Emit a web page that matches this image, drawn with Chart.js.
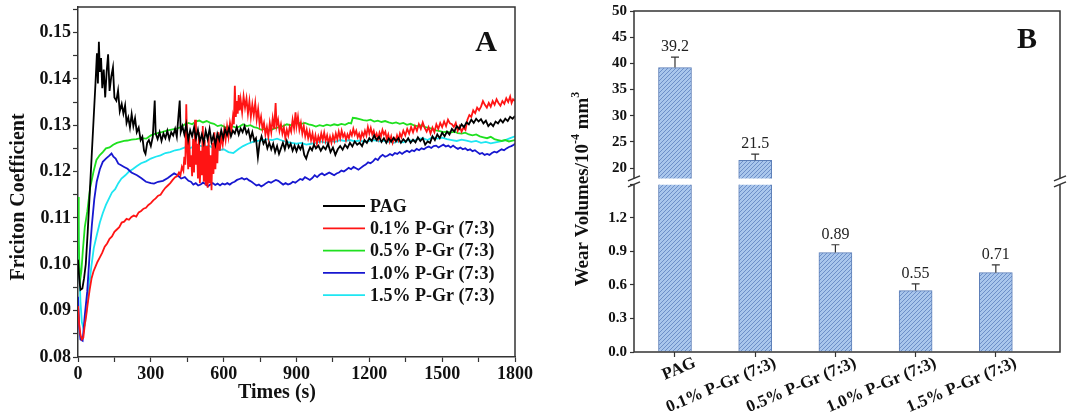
<!DOCTYPE html>
<html>
<head>
<meta charset="utf-8">
<title>Friction coefficient and wear volume</title>
<script src="https://cdn.jsdelivr.net/npm/chart.js@4.4.1/dist/chart.umd.min.js"></script>
<style>
  html, body { margin: 0; padding: 0; background: #fff; }
  #wrap { position: relative; width: 1068px; height: 418px; overflow: hidden; }
  #frictionChart { position: absolute; left: 0; top: 0; }
  #wearChart { position: absolute; left: 540px; top: 0; }
</style>
</head>
<body>
<div id="wrap">
  <canvas id="frictionChart" width="560" height="418"></canvas>
  <canvas id="wearChart" width="528" height="418"></canvas>
</div>
<script>
// [time (s), friction coefficient]
const pagData = [
  [0, 0.101], [5, 0.097], [10, 0.0945], [18, 0.0948], [25, 0.097], [32, 0.1], [40, 0.107], [48, 0.115],
  [56, 0.123], [64, 0.131], [72, 0.139], [78, 0.1455], [82, 0.139], [86, 0.148], [90, 0.1415], [95, 0.1445],
  [100, 0.138], [106, 0.142], [112, 0.136], [118, 0.1415], [124, 0.1453], [130, 0.1374], [137, 0.1405], [144, 0.1425],
  [150, 0.136], [158, 0.1353], [165, 0.1375], [172, 0.133], [180, 0.1346], [187, 0.1325], [194, 0.1343], [200, 0.1305],
  [207, 0.1317], [214, 0.1295], [221, 0.1324], [228, 0.1298], [235, 0.1315], [242, 0.1285], [250, 0.1295], [258, 0.1268],
  [265, 0.1275], [272, 0.1245], [278, 0.1238], [285, 0.1262], [292, 0.1268], [300, 0.1255], [308, 0.1275], [316, 0.1353],
  [320, 0.1282], [328, 0.127], [336, 0.1285], [344, 0.1266], [352, 0.1282], [360, 0.1272], [368, 0.1288], [376, 0.127],
  [384, 0.1285], [392, 0.1278], [400, 0.1292], [407, 0.1275], [414, 0.1322], [419, 0.1353], [423, 0.1285], [430, 0.1298],
  [438, 0.128], [446, 0.1302], [454, 0.1268], [462, 0.1289], [470, 0.1276], [478, 0.1295], [486, 0.1272], [494, 0.129],
  [502, 0.1265], [510, 0.128], [518, 0.1262], [526, 0.1288], [534, 0.127], [542, 0.1292], [550, 0.1264], [558, 0.1278],
  [566, 0.1258], [574, 0.1281], [582, 0.1268], [590, 0.1289], [598, 0.1272], [606, 0.1291], [614, 0.1279], [622, 0.1294],
  [630, 0.1276], [638, 0.1288], [646, 0.1282], [654, 0.1296], [662, 0.128], [670, 0.1293], [678, 0.1285], [686, 0.1298],
  [694, 0.1282], [702, 0.129], [710, 0.127], [718, 0.1285], [726, 0.1266], [733, 0.1272], [741, 0.1231], [748, 0.1262],
  [756, 0.1276], [764, 0.126], [772, 0.1268], [780, 0.125], [788, 0.1262], [796, 0.1248], [804, 0.126], [812, 0.1242],
  [820, 0.1255], [828, 0.1238], [836, 0.125], [844, 0.1262], [852, 0.1248], [860, 0.1266], [868, 0.1252], [876, 0.126],
  [884, 0.1245], [892, 0.1256], [900, 0.1244], [908, 0.1256], [916, 0.1248], [924, 0.1258], [932, 0.1236], [940, 0.1228],
  [948, 0.1242], [956, 0.1252], [964, 0.1246], [972, 0.1258], [980, 0.125], [990, 0.1256], [1000, 0.1245], [1010, 0.1254],
  [1020, 0.1248], [1030, 0.126], [1040, 0.1242], [1050, 0.1252], [1060, 0.1236], [1070, 0.1248], [1080, 0.1255], [1090, 0.1247],
  [1100, 0.1258], [1110, 0.1251], [1120, 0.1262], [1130, 0.1254], [1140, 0.1265], [1150, 0.1258], [1160, 0.1262], [1170, 0.1255],
  [1180, 0.1268], [1190, 0.1262], [1200, 0.1272], [1210, 0.1266], [1220, 0.1278], [1230, 0.1268], [1240, 0.1275], [1250, 0.1264],
  [1260, 0.1272], [1270, 0.1262], [1280, 0.1271], [1290, 0.1265], [1300, 0.1273], [1310, 0.1266], [1320, 0.1272], [1330, 0.1262],
  [1340, 0.127], [1350, 0.1264], [1360, 0.1272], [1370, 0.1262], [1380, 0.1269], [1390, 0.1263], [1400, 0.1274], [1410, 0.1266],
  [1420, 0.1272], [1430, 0.1258], [1440, 0.1265], [1450, 0.1262], [1460, 0.1276], [1470, 0.1268], [1480, 0.128], [1490, 0.1272],
  [1500, 0.1284], [1510, 0.1276], [1520, 0.1286], [1530, 0.128], [1540, 0.1292], [1550, 0.1286], [1560, 0.1298], [1570, 0.1292],
  [1580, 0.1302], [1590, 0.1296], [1600, 0.1306], [1610, 0.1302], [1620, 0.1312], [1630, 0.1305], [1640, 0.1314], [1650, 0.1308],
  [1660, 0.1313], [1670, 0.1304], [1680, 0.131], [1690, 0.1298], [1700, 0.1304], [1710, 0.1298], [1720, 0.1308], [1730, 0.1304],
  [1740, 0.1312], [1750, 0.1306], [1760, 0.1314], [1770, 0.1309], [1780, 0.1318], [1790, 0.1314], [1800, 0.132],
];

const pgr01Data = [
  [0, 0.091], [5, 0.087], [10, 0.0848], [16, 0.0838], [22, 0.0842], [28, 0.087], [34, 0.089], [40, 0.0915],
  [48, 0.0945], [56, 0.097], [64, 0.0985], [72, 0.0995], [80, 0.1005], [90, 0.1015], [100, 0.1025], [110, 0.1038],
  [120, 0.1045], [130, 0.1055], [140, 0.106], [150, 0.107], [160, 0.1075], [170, 0.108], [180, 0.109], [190, 0.1092],
  [200, 0.1098], [210, 0.1096], [220, 0.1102], [230, 0.1105], [240, 0.1103], [250, 0.1112], [260, 0.1115], [270, 0.112],
  [280, 0.1122], [290, 0.1128], [300, 0.1132], [310, 0.1138], [320, 0.1142], [330, 0.1148], [340, 0.115], [350, 0.1158],
  [360, 0.1165], [370, 0.117], [380, 0.1175], [390, 0.1182], [400, 0.1188], [408, 0.119], [416, 0.1198], [422, 0.1192],
  [428, 0.121], [434, 0.1202], [438, 0.1232], [442, 0.1215], [446, 0.1345], [450, 0.1245], [454, 0.1205], [458, 0.128],
  [462, 0.121], [466, 0.1235], [470, 0.119], [474, 0.127], [478, 0.1198], [482, 0.1312], [486, 0.1215], [490, 0.126],
  [494, 0.1185], [498, 0.1285], [502, 0.1175], [506, 0.1245], [510, 0.1192], [514, 0.1298], [518, 0.1178], [522, 0.1268],
  [526, 0.117], [530, 0.1255], [534, 0.1165], [538, 0.1278], [542, 0.1175], [546, 0.1235], [550, 0.116], [554, 0.1262],
  [558, 0.1195], [562, 0.1285], [566, 0.1205], [570, 0.1272], [574, 0.1218], [578, 0.1285], [584, 0.1245], [590, 0.1275],
  [596, 0.1258], [602, 0.129], [608, 0.1268], [614, 0.1298], [620, 0.1275], [626, 0.1305], [632, 0.1288], [638, 0.1318],
  [642, 0.1302], [646, 0.1385], [650, 0.1318], [654, 0.1352], [658, 0.1325], [662, 0.1365], [666, 0.1332], [670, 0.1355],
  [676, 0.1328], [682, 0.1362], [688, 0.1338], [694, 0.1358], [700, 0.1325], [706, 0.1352], [712, 0.1318], [718, 0.1345],
  [724, 0.1322], [730, 0.1348], [736, 0.1312], [742, 0.1335], [748, 0.1302], [754, 0.1318], [760, 0.1292], [766, 0.1305],
  [772, 0.128], [778, 0.1296], [784, 0.1275], [790, 0.1305], [796, 0.1285], [802, 0.1315], [808, 0.1292], [814, 0.1348],
  [818, 0.1298], [824, 0.1312], [830, 0.1288], [836, 0.1302], [842, 0.1282], [848, 0.1295], [854, 0.1272], [860, 0.129],
  [866, 0.1278], [872, 0.1296], [878, 0.1286], [884, 0.1312], [890, 0.1293], [896, 0.1328], [900, 0.1298], [906, 0.1318],
  [912, 0.129], [918, 0.1305], [924, 0.1282], [930, 0.1298], [936, 0.1276], [942, 0.129], [948, 0.1272], [954, 0.1286],
  [960, 0.1268], [966, 0.1282], [972, 0.1262], [978, 0.1278], [984, 0.126], [990, 0.1276], [996, 0.1265], [1002, 0.1282],
  [1008, 0.1268], [1014, 0.1284], [1020, 0.1266], [1026, 0.1278], [1032, 0.126], [1038, 0.1275], [1044, 0.1262], [1050, 0.1278],
  [1056, 0.1266], [1062, 0.1282], [1068, 0.127], [1074, 0.1286], [1080, 0.1272], [1086, 0.1288], [1092, 0.1275], [1098, 0.1282],
  [1104, 0.1268], [1110, 0.128], [1116, 0.1272], [1122, 0.1286], [1128, 0.1278], [1134, 0.1292], [1140, 0.128], [1146, 0.1288],
  [1152, 0.1274], [1158, 0.1282], [1164, 0.127], [1170, 0.1284], [1176, 0.1276], [1182, 0.1288], [1188, 0.1278], [1194, 0.1296],
  [1200, 0.1282], [1206, 0.1294], [1212, 0.128], [1218, 0.1288], [1224, 0.1274], [1230, 0.1282], [1236, 0.127], [1242, 0.1284],
  [1248, 0.1276], [1254, 0.129], [1260, 0.128], [1266, 0.1286], [1272, 0.127], [1278, 0.128], [1284, 0.1265], [1290, 0.1276],
  [1296, 0.1262], [1302, 0.1272], [1308, 0.1266], [1314, 0.1278], [1320, 0.1268], [1326, 0.1282], [1332, 0.1274], [1340, 0.1288],
  [1348, 0.1278], [1356, 0.1292], [1364, 0.1282], [1372, 0.1296], [1380, 0.1285], [1388, 0.1298], [1396, 0.1288], [1404, 0.1302],
  [1412, 0.1292], [1420, 0.1306], [1428, 0.1294], [1436, 0.1286], [1444, 0.1296], [1452, 0.1282], [1460, 0.1295], [1468, 0.1285],
  [1476, 0.1302], [1484, 0.1292], [1492, 0.1305], [1500, 0.1296], [1508, 0.1308], [1516, 0.1298], [1524, 0.1312], [1532, 0.1304],
  [1540, 0.1302], [1548, 0.1296], [1556, 0.1305], [1564, 0.1288], [1572, 0.1298], [1580, 0.1286], [1588, 0.1295], [1596, 0.129],
  [1604, 0.1312], [1612, 0.1322], [1620, 0.1318], [1628, 0.1332], [1636, 0.1326], [1644, 0.1338], [1652, 0.1332], [1660, 0.134],
  [1668, 0.1352], [1676, 0.1344], [1684, 0.1338], [1692, 0.1348], [1700, 0.134], [1708, 0.1352], [1716, 0.1344], [1724, 0.1356],
  [1732, 0.1348], [1740, 0.1342], [1748, 0.1352], [1756, 0.1346], [1764, 0.1358], [1772, 0.135], [1780, 0.1362], [1786, 0.1348],
  [1792, 0.1356], [1800, 0.1352],
];

const pgr05Data = [
  [0, 0.1145], [3, 0.105], [6, 0.099], [10, 0.097], [14, 0.0985], [20, 0.103], [28, 0.108], [38, 0.1113],
  [50, 0.1165], [64, 0.12], [76, 0.1225], [89, 0.1235], [102, 0.1242], [115, 0.125], [130, 0.1252], [145, 0.1258],
  [160, 0.1262], [175, 0.1264], [190, 0.1266], [204, 0.1267], [220, 0.1269], [240, 0.127], [260, 0.1272], [281, 0.1271],
  [300, 0.1278], [320, 0.1282], [345, 0.1285], [370, 0.1289], [390, 0.1291], [409, 0.1293], [425, 0.1296], [440, 0.1302],
  [455, 0.1305], [470, 0.1302], [485, 0.1308], [500, 0.131], [515, 0.1306], [530, 0.1309], [545, 0.1305], [560, 0.1303],
  [575, 0.1298], [590, 0.13], [605, 0.1296], [620, 0.1294], [635, 0.1298], [650, 0.1295], [665, 0.1297], [680, 0.1302],
  [695, 0.1298], [710, 0.13], [725, 0.1296], [740, 0.1294], [755, 0.129], [770, 0.1292], [785, 0.1288], [800, 0.1291],
  [815, 0.1294], [830, 0.1296], [845, 0.1298], [860, 0.1302], [875, 0.13], [890, 0.1304], [905, 0.1306], [920, 0.1303],
  [935, 0.1305], [950, 0.1302], [965, 0.13], [980, 0.1297], [995, 0.13], [1010, 0.1298], [1025, 0.1301], [1040, 0.1299],
  [1055, 0.1302], [1070, 0.13], [1085, 0.1303], [1100, 0.1301], [1115, 0.1305], [1125, 0.1304], [1132, 0.1316], [1145, 0.1315],
  [1160, 0.1313], [1175, 0.1311], [1190, 0.131], [1205, 0.1312], [1220, 0.1308], [1235, 0.131], [1250, 0.1307], [1265, 0.1309],
  [1280, 0.1306], [1295, 0.1304], [1310, 0.1306], [1325, 0.1303], [1340, 0.1305], [1355, 0.1301], [1370, 0.1303], [1385, 0.1299],
  [1400, 0.1298], [1415, 0.13], [1430, 0.1296], [1445, 0.1294], [1460, 0.1292], [1475, 0.1289], [1490, 0.1287], [1505, 0.1285],
  [1520, 0.1286], [1535, 0.1284], [1550, 0.1286], [1565, 0.1283], [1580, 0.1282], [1595, 0.1284], [1610, 0.128], [1625, 0.1278],
  [1640, 0.128], [1655, 0.1276], [1670, 0.1274], [1685, 0.1272], [1700, 0.1275], [1715, 0.127], [1730, 0.1268], [1745, 0.1266],
  [1760, 0.1268], [1775, 0.1265], [1790, 0.1267], [1800, 0.1268],
];

const pgr10Data = [
  [0, 0.093], [5, 0.0865], [10, 0.0838], [19, 0.0835], [28, 0.089], [38, 0.0941], [47, 0.1015], [57, 0.1084],
  [67, 0.114], [77, 0.1178], [90, 0.1205], [102, 0.1221], [115, 0.1228], [128, 0.1234], [138, 0.1239], [146, 0.1232],
  [155, 0.1228], [166, 0.1217], [176, 0.1214], [190, 0.121], [204, 0.1206], [220, 0.1198], [243, 0.1192], [260, 0.1186],
  [280, 0.1178], [300, 0.1175], [313, 0.1174], [330, 0.1178], [350, 0.118], [370, 0.1186], [385, 0.1192], [396, 0.1196],
  [410, 0.1192], [425, 0.1185], [440, 0.1188], [455, 0.118], [465, 0.1178], [475, 0.1172], [485, 0.1175], [495, 0.117],
  [505, 0.1172], [515, 0.1176], [525, 0.1173], [535, 0.1168], [545, 0.1172], [555, 0.1175], [565, 0.1171], [575, 0.1174],
  [585, 0.117], [595, 0.1174], [605, 0.1172], [615, 0.1175], [625, 0.1172], [635, 0.1176], [645, 0.1178], [655, 0.1182],
  [665, 0.1184], [675, 0.1186], [685, 0.1183], [695, 0.1185], [705, 0.1181], [715, 0.1178], [725, 0.1174], [735, 0.117],
  [745, 0.1172], [755, 0.1168], [765, 0.1171], [775, 0.1175], [785, 0.1178], [795, 0.1176], [805, 0.1179], [815, 0.1182],
  [825, 0.118], [835, 0.1176], [845, 0.1172], [855, 0.1175], [865, 0.1172], [875, 0.1174], [885, 0.1178], [895, 0.1176],
  [905, 0.118], [915, 0.1184], [925, 0.1182], [935, 0.1188], [945, 0.1185], [955, 0.1182], [965, 0.1186], [975, 0.1192],
  [985, 0.1188], [995, 0.1193], [1005, 0.1196], [1015, 0.1192], [1025, 0.1195], [1035, 0.1198], [1045, 0.1195], [1055, 0.1192],
  [1065, 0.1196], [1075, 0.1198], [1085, 0.1202], [1095, 0.12], [1105, 0.1204], [1115, 0.1208], [1125, 0.1205], [1135, 0.121],
  [1145, 0.1207], [1155, 0.1204], [1165, 0.1208], [1175, 0.1212], [1185, 0.1215], [1195, 0.122], [1205, 0.1218], [1215, 0.1222],
  [1225, 0.1228], [1235, 0.1225], [1245, 0.1232], [1255, 0.1236], [1265, 0.1232], [1275, 0.1234], [1285, 0.1238], [1295, 0.1235],
  [1305, 0.124], [1315, 0.1238], [1325, 0.1242], [1335, 0.1238], [1345, 0.1242], [1355, 0.1245], [1365, 0.1242], [1375, 0.1246],
  [1385, 0.1244], [1395, 0.1249], [1405, 0.1246], [1415, 0.125], [1425, 0.1248], [1435, 0.1252], [1445, 0.1254], [1455, 0.1251],
  [1465, 0.1255], [1475, 0.1256], [1485, 0.1252], [1495, 0.1255], [1505, 0.1258], [1515, 0.1254], [1525, 0.1256], [1535, 0.1252],
  [1545, 0.1256], [1555, 0.1252], [1565, 0.1249], [1575, 0.1252], [1585, 0.1248], [1595, 0.125], [1605, 0.1246], [1615, 0.1248],
  [1625, 0.1244], [1635, 0.1246], [1645, 0.1242], [1655, 0.1238], [1665, 0.124], [1675, 0.1236], [1685, 0.1238], [1695, 0.1236],
  [1705, 0.124], [1715, 0.1243], [1725, 0.1241], [1735, 0.1245], [1745, 0.1248], [1755, 0.1246], [1765, 0.125], [1775, 0.1253],
  [1785, 0.1255], [1795, 0.1258], [1800, 0.126],
];

const pgr15Data = [
  [0, 0.112], [5, 0.1], [10, 0.092], [16, 0.0875], [22, 0.0863], [28, 0.0868], [36, 0.0905], [45, 0.095],
  [55, 0.0995], [65, 0.1035], [77, 0.1062], [90, 0.109], [102, 0.111], [115, 0.1128], [128, 0.1142], [140, 0.1155],
  [153, 0.1162], [166, 0.1175], [179, 0.1185], [195, 0.1192], [210, 0.12], [225, 0.1205], [243, 0.1212], [260, 0.1218],
  [280, 0.1222], [300, 0.1228], [320, 0.1232], [340, 0.1235], [360, 0.124], [380, 0.1242], [400, 0.1246], [420, 0.1248],
  [440, 0.1252], [460, 0.125], [480, 0.1255], [500, 0.1256], [520, 0.1254], [540, 0.1256], [560, 0.125], [580, 0.1246],
  [600, 0.1248], [620, 0.1242], [640, 0.124], [660, 0.1248], [680, 0.1255], [700, 0.126], [720, 0.1264], [740, 0.1266],
  [760, 0.1268], [780, 0.127], [800, 0.1268], [820, 0.1271], [840, 0.1267], [860, 0.1264], [880, 0.1262], [900, 0.126],
  [920, 0.1262], [940, 0.1258], [960, 0.126], [980, 0.1262], [1000, 0.1265], [1020, 0.1262], [1040, 0.1266], [1060, 0.1264],
  [1080, 0.1268], [1100, 0.1266], [1120, 0.1268], [1140, 0.1265], [1160, 0.1267], [1180, 0.1264], [1200, 0.1266], [1220, 0.1268],
  [1240, 0.1265], [1260, 0.1267], [1280, 0.1264], [1300, 0.1262], [1320, 0.1265], [1340, 0.1263], [1360, 0.1268], [1380, 0.1266],
  [1400, 0.127], [1420, 0.1272], [1440, 0.1268], [1460, 0.1274], [1480, 0.1271], [1500, 0.1273], [1520, 0.127], [1540, 0.1268],
  [1560, 0.1266], [1580, 0.1269], [1600, 0.1267], [1620, 0.1264], [1640, 0.1266], [1660, 0.1262], [1680, 0.1264], [1700, 0.1261],
  [1720, 0.1263], [1740, 0.1265], [1760, 0.1268], [1780, 0.1272], [1800, 0.1276],
];

const seriesLabels = ["PAG", "0.1% P-Gr (7:3)", "0.5% P-Gr (7:3)", "1.0% P-Gr (7:3)", "1.5% P-Gr (7:3)"];
const lineColors = ["#000000", "#ff1414", "#1fe01f", "#1717d0", "#1ee6f2"];

// panel B
const wearCategories = ["PAG", "0.1% P-Gr (7:3)", "0.5% P-Gr (7:3)", "1.0% P-Gr (7:3)", "1.5% P-Gr (7:3)"];
const wearValues = [39.2, 21.5, 0.89, 0.55, 0.71];
const wearErrors = [2.0, 1.2, 0.07, 0.06, 0.07];

const serif = "'Liberation Serif', 'Times New Roman', serif";
const axisColor = "#333333";
const textColor = "#111111";

function makeHatch() {
  const c = document.createElement("canvas");
  c.width = 4;
  c.height = 4;
  const g = c.getContext("2d");
  g.fillStyle = "#a9c6ec";
  g.fillRect(0, 0, 4, 4);
  g.strokeStyle = "#6d8fc8";
  g.lineWidth = 1;
  g.beginPath();
  g.moveTo(0, 4); g.lineTo(4, 0);
  g.moveTo(-1, 1); g.lineTo(1, -1);
  g.moveTo(3, 5); g.lineTo(5, 3);
  g.stroke();
  return g.createPattern(c, "repeat");
}

// keep the plot box where it is, whatever the tick labels want
function fixWidth(w) {
  return (s) => { s.width = w; s.paddingTop = 0; s.paddingBottom = 0; };
}
function fixHeight(h) {
  return (s) => { s.height = h; s.paddingLeft = 0; s.paddingRight = 0; };
}

const frictionDecor = {
  id: "frictionDecor",
  afterDraw(chart) {
    const { ctx, chartArea: a } = chart;
    ctx.save();
    ctx.strokeStyle = axisColor;
    ctx.lineWidth = 1.5;
    ctx.beginPath();
    ctx.moveTo(a.left, a.top);
    ctx.lineTo(a.right, a.top);
    ctx.lineTo(a.right, a.bottom);
    ctx.stroke();

    ctx.fillStyle = textColor;
    ctx.font = "bold 30px " + serif;
    ctx.textAlign = "center";
    ctx.textBaseline = "middle";
    ctx.fillText("A", a.right - 29, a.top + 36);

    // legend inside the plot
    ctx.font = "bold 18px " + serif;
    ctx.textAlign = "left";
    chart.data.datasets.forEach((ds, i) => {
      const y = a.top + 199 + i * 22.3;
      ctx.strokeStyle = ds.borderColor;
      ctx.lineWidth = 1.8;
      ctx.beginPath();
      ctx.moveTo(a.left + 245, y);
      ctx.lineTo(a.left + 287, y);
      ctx.stroke();
      ctx.fillText(ds.label, a.left + 292, y + 1);
    });

    ctx.font = "bold 20px " + serif;
    ctx.textAlign = "center";
    ctx.fillText("Times (s)", 277, 393);
    ctx.translate(19, 197);
    ctx.rotate(-Math.PI / 2);
    ctx.fillText("Friciton Coefficient", 0, 0);
    ctx.restore();
  },
};

const wearClip = {
  id: "wearClip",
  beforeDatasetDraw(chart, args) {
    const { ctx, chartArea: a } = chart;
    const axisId = chart.data.datasets[args.index].yAxisID;
    const scale = chart.scales[axisId];
    const cut = chart.scales.yBot.top;
    ctx.save();
    ctx.beginPath();
    if (axisId === "yTop") {
      ctx.rect(a.left, scale.top - 2, a.right - a.left, cut - 6 - scale.top + 2);
    } else {
      ctx.rect(a.left, cut, a.right - a.left, scale.bottom - cut + 2);
    }
    ctx.clip();
  },
  afterDatasetDraw(chart) {
    chart.ctx.restore();
  },
};

const wearDecor = {
  id: "wearDecor",
  afterDatasetsDraw(chart) {
    const { ctx, scales } = chart;
    ctx.save();
    ctx.strokeStyle = axisColor;
    ctx.lineWidth = 1.2;
    ctx.fillStyle = "#222";
    ctx.font = "16px " + serif;
    ctx.textAlign = "center";
    ctx.textBaseline = "bottom";
    wearValues.forEach((v, i) => {
      const s = v > scales.yBot.max ? scales.yTop : scales.yBot;
      const x = scales.x.getPixelForValue(i + 1);
      const y0 = s.getPixelForValue(v);
      const y1 = s.getPixelForValue(v + wearErrors[i]);
      ctx.beginPath();
      ctx.moveTo(x, y0);
      ctx.lineTo(x, y1);
      ctx.moveTo(x - 4, y1);
      ctx.lineTo(x + 4, y1);
      ctx.stroke();
      ctx.fillText(String(v), x, y1 - 2);
    });
    ctx.restore();
  },
  afterDraw(chart) {
    const { ctx, chartArea: a } = chart;
    const cut = chart.scales.yBot.top;
    const mid = cut - 3;
    ctx.save();
    ctx.strokeStyle = axisColor;
    ctx.lineWidth = 1.5;
    ctx.beginPath();
    ctx.moveTo(a.left, mid - 3);
    ctx.lineTo(a.left, a.top);
    ctx.lineTo(a.right, a.top);
    ctx.lineTo(a.right, mid - 3);
    ctx.moveTo(a.left, mid + 3);
    ctx.lineTo(a.left, a.bottom);
    ctx.lineTo(a.right, a.bottom);
    ctx.lineTo(a.right, mid + 3);
    ctx.stroke();
    // axis break marks
    [a.left, a.right].forEach((x) => {
      [-3, 3].forEach((d) => {
        ctx.beginPath();
        ctx.moveTo(x - 6, mid + d + 2.5);
        ctx.lineTo(x + 6, mid + d - 2.5);
        ctx.stroke();
      });
    });

    ctx.fillStyle = textColor;
    ctx.font = "bold 30px " + serif;
    ctx.textAlign = "center";
    ctx.textBaseline = "middle";
    ctx.fillText("B", a.right - 33, a.top + 29);

    // y title with superscripts
    const parts = [
      ["Wear Volumes/10", 19, 0],
      ["-4", 12, -7],
      [" mm", 19, 0],
      ["3", 12, -7],
    ];
    let total = 0;
    parts.forEach((p) => {
      ctx.font = "bold " + p[1] + "px " + serif;
      total += ctx.measureText(p[0]).width;
    });
    ctx.translate(43, 189);
    ctx.rotate(-Math.PI / 2);
    ctx.textAlign = "left";
    let x = -total / 2;
    parts.forEach((p) => {
      ctx.font = "bold " + p[1] + "px " + serif;
      ctx.fillText(p[0], x, p[2]);
      x += ctx.measureText(p[0]).width;
    });
    ctx.restore();
  },
};

document.addEventListener("DOMContentLoaded", function () {
  const tickFont = { family: serif, size: 18, weight: "bold" };

  const frictionChart = new Chart(document.getElementById("frictionChart"), {
    type: "line",
    data: {
      datasets: [pagData, pgr01Data, pgr05Data, pgr10Data, pgr15Data].map((series, i) => ({
        label: seriesLabels[i],
        data: series.map(([t, v]) => ({ x: t, y: v })),
        borderColor: lineColors[i],
        borderWidth: 1.8,
        pointRadius: 0,
        tension: 0,
      })),
    },
    options: {
      responsive: false,
      animation: false,
      devicePixelRatio: 1,
      events: [],
      layout: { autoPadding: false, padding: { top: 7, right: 45, left: 0, bottom: 0 } },
      plugins: { legend: { display: false }, tooltip: { enabled: false } },
      scales: {
        x: {
          type: "linear",
          min: 0,
          max: 1800,
          afterFit: fixHeight(61),
          grid: { drawOnChartArea: false, tickLength: 5, color: axisColor, tickWidth: 1.2 },
          border: { color: axisColor, width: 1.5 },
          ticks: {
            stepSize: 150,
            autoSkip: false,
            maxRotation: 0,
            padding: 2,
            color: textColor,
            font: tickFont,
            callback: (v) => (v % 300 === 0 ? v : ""),
          },
        },
        y: {
          type: "linear",
          min: 0.08,
          max: 0.1555,
          afterFit: fixWidth(78),
          grid: { drawOnChartArea: false, tickLength: 5, color: axisColor, tickWidth: 1.2 },
          border: { color: axisColor, width: 1.5 },
          ticks: {
            stepSize: 0.005,
            includeBounds: false,
            autoSkip: false,
            padding: 2,
            color: textColor,
            font: tickFont,
            callback: (v) => (Math.round(v * 200) % 2 === 0 ? v.toFixed(2) : ""),
          },
        },
      },
    },
    plugins: [frictionDecor],
  });

  const hatch = makeHatch();
  const barPoints = wearValues.map((v, i) => ({ x: i + 1, y: v }));
  const barStyle = {
    backgroundColor: hatch,
    borderColor: "#5d7fb8",
    borderWidth: 1,
    barThickness: 33,
    grouped: false,
  };
  const smallTick = { family: serif, size: 15, weight: "bold" };

  // left stacked axes are laid out in reverse order, so the lower one is listed first
  const wearChart = new Chart(document.getElementById("wearChart"), {
    type: "bar",
    data: {
      datasets: [
        Object.assign({ label: "upper", yAxisID: "yTop", data: barPoints }, barStyle),
        Object.assign({ label: "lower", yAxisID: "yBot", data: barPoints }, barStyle),
      ],
    },
    options: {
      responsive: false,
      animation: false,
      devicePixelRatio: 1,
      events: [],
      layout: { autoPadding: false, padding: { top: 11, right: 8, left: 0, bottom: 0 } },
      plugins: { legend: { display: false }, tooltip: { enabled: false } },
      scales: {
        x: {
          type: "linear",
          min: 0.489,
          max: 5.8,
          offset: false,
          afterFit: fixHeight(66),
          grid: { offset: false, drawOnChartArea: false, tickLength: 5, color: axisColor, tickWidth: 1.2 },
          border: { display: false },
          ticks: {
            stepSize: 1,
            includeBounds: false,
            autoSkip: false,
            minRotation: 23,
            maxRotation: 23,
            padding: -4,
            labelOffset: 20,
            color: textColor,
            font: { family: serif, size: 17, weight: "bold" },
            callback: (v) => (Number.isInteger(v) ? wearCategories[v - 1] : ""),
          },
        },
        yBot: {
          type: "linear",
          position: "left",
          stack: "wear",
          stackWeight: 1,
          min: 0,
          max: 1.5,
          afterFit: fixWidth(94),
          grid: { drawOnChartArea: false, tickLength: 4, color: axisColor, tickWidth: 1.2 },
          border: { display: false },
          ticks: {
            stepSize: 0.3,
            autoSkip: false,
            padding: 3,
            color: textColor,
            font: smallTick,
            callback: (v) => (v > 1.45 ? "" : v.toFixed(1)),
          },
        },
        yTop: {
          type: "linear",
          position: "left",
          stack: "wear",
          stackWeight: 1.035,
          min: 16.9,
          max: 50,
          afterFit: fixWidth(94),
          grid: { drawOnChartArea: false, tickLength: 4, color: axisColor, tickWidth: 1.2 },
          border: { display: false },
          ticks: {
            stepSize: 5,
            includeBounds: false,
            autoSkip: false,
            padding: 3,
            color: textColor,
            font: smallTick,
          },
        },
      },
    },
    plugins: [wearClip, wearDecor],
  });
});
</script>
</body>
</html>
